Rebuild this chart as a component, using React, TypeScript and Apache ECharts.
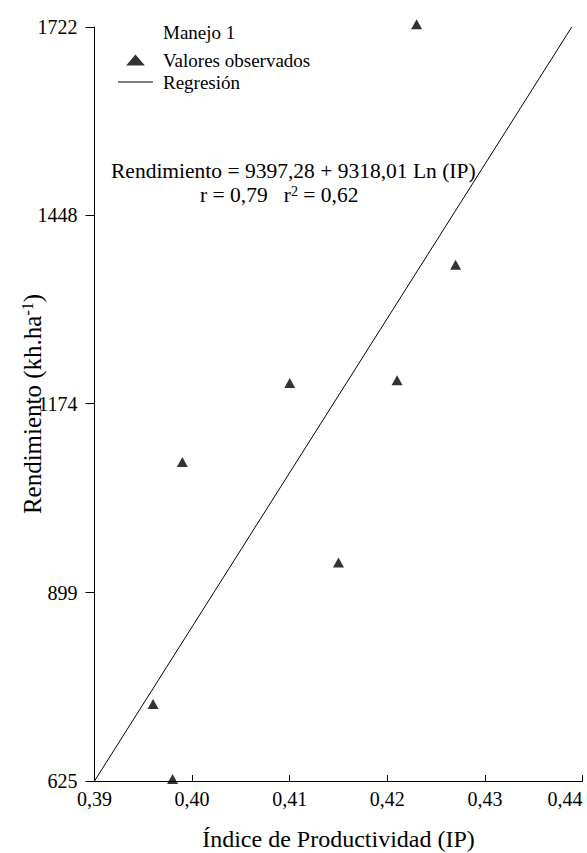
import React, { useEffect, useRef } from "react";
import * as echarts from "echarts";

const FONT = "Liberation Serif";

// Observed values (Índice de Productividad, Rendimiento)
const obsIP = [0.396, 0.398, 0.399, 0.41, 0.415, 0.421, 0.423, 0.427];
const obsRend = [737, 628, 1089, 1204, 943, 1208, 1726, 1376];

// Regression line endpoints
const regIP = [0.39, 0.4389];
const regRend = [625, 1722];

// Axis ticks
const xTicks = [0.39, 0.4, 0.41, 0.42, 0.43, 0.44];
const yTicks = [625, 899, 1174, 1448, 1722];

const legendTitle = "Manejo 1";
const seriesNames = ["Valores observados", "Regresión"];
const equationLine = "Rendimiento = 9397,28 + 9318,01 Ln (IP)";
const statsLine = "r = 0,79   r{sup|2} = 0,62";

export default function App() {
  const ref = useRef<HTMLDivElement>(null);
  useEffect(() => {
    if (!ref.current) return;
    const chart = echarts.init(ref.current, null, { renderer: "svg" });
    const option: any = {
      animation: false,
      backgroundColor: "#ffffff",
      textStyle: { fontFamily: FONT, color: "#000" },
      grid: {
        left: 94.5,
        right: 4.5,
        top: 27,
        bottom: 72,
        containLabel: false,
        outerBoundsMode: "none",
      },
      legend: {
        orient: "vertical",
        left: 118,
        top: 50.5,
        padding: 0,
        itemWidth: 35,
        itemHeight: 11,
        itemGap: 3,
        textStyle: {
          fontFamily: FONT,
          fontSize: 19,
          color: "#000",
          lineHeight: 19,
          padding: [0, 0, 0, 5],
        },
        data: [
          { name: seriesNames[0], icon: "path://M0,10L8.5,0L17,10Z" },
          { name: seriesNames[1], icon: "path://M0,0L35,0L35,1L0,1Z" },
        ],
      },
      xAxis: {
        type: "value",
        min: xTicks[0],
        max: xTicks[xTicks.length - 1],
        interval: 0.01,
        name: "Índice de Productividad (IP)",
        nameLocation: "middle",
        nameGap: 46,
        nameMoveOverlap: false,
        nameTextStyle: { fontFamily: FONT, fontSize: 24, color: "#000" },
        axisLine: { show: true, onZero: false, lineStyle: { color: "#000", width: 1 } },
        axisTick: { show: true, inside: true, length: 6, lineStyle: { color: "#000" } },
        splitLine: { show: false },
        axisLabel: {
          fontFamily: FONT,
          fontSize: 20,
          color: "#000",
          margin: 8,
          alignMaxLabel: "right",
          formatter: (v: number) => v.toFixed(2).replace(".", ","),
        },
      },
      yAxis: {
        type: "value",
        min: yTicks[0],
        max: yTicks[yTicks.length - 1],
        name: "Rendimiento (kh.ha{sup|-1})",
        nameLocation: "middle",
        nameGap: 50,
        nameMoveOverlap: false,
        nameRotate: 90,
        nameTextStyle: {
          fontFamily: FONT,
          fontSize: 25,
          color: "#000",
          rich: {
            sup: { fontFamily: FONT, fontSize: 16, color: "#000", verticalAlign: "top", padding: [0, 0, 8, 0] },
          },
        },
        axisLine: { show: true, onZero: false, lineStyle: { color: "#000", width: 1 } },
        axisTick: {
          show: true,
          inside: false,
          length: 9,
          customValues: yTicks,
          lineStyle: { color: "#000" },
        },
        splitLine: { show: false },
        axisLabel: {
          fontFamily: FONT,
          fontSize: 20,
          color: "#000",
          margin: 17,
          customValues: yTicks,
          formatter: (v: number) => String(Math.round(v)),
        },
      },
      graphic: [
        {
          type: "text",
          left: 163,
          top: 23,
          style: { text: legendTitle, fontFamily: FONT, fontSize: 19, fill: "#000" },
        },
        {
          type: "text",
          left: 111,
          top: 160,
          style: { text: equationLine, fontFamily: FONT, fontSize: 21.5, fill: "#000" },
        },
        {
          type: "text",
          left: 200,
          top: 184,
          style: {
            text: statsLine,
            fontFamily: FONT,
            fontSize: 21.5,
            fill: "#000",
            rich: {
              sup: { fontFamily: FONT, fontSize: 14, fill: "#000", verticalAlign: "top", padding: [0, 0, 8, 0] },
            },
          },
        },
      ],
      series: [
        {
          name: seriesNames[0],
          type: "scatter",
          symbol: "triangle",
          symbolSize: [11, 10],
          clip: false,
          itemStyle: { color: "#000" },
          data: obsIP.map((x, i) => [x, obsRend[i]]),
          z: 3,
        },
        {
          name: seriesNames[1],
          type: "line",
          symbol: "none",
          showSymbol: false,
          lineStyle: { color: "#000", width: 1 },
          itemStyle: { color: "#000" },
          data: regIP.map((x, i) => [x, regRend[i]]),
          z: 2,
        },
      ],
    };
    chart.setOption(option);
    return () => chart.dispose();
  }, []);
  return (
    <div
      ref={ref}
      style={{ position: "absolute", left: 0, top: 0, width: 587, height: 853, background: "#fff" }}
    />
  );
}
